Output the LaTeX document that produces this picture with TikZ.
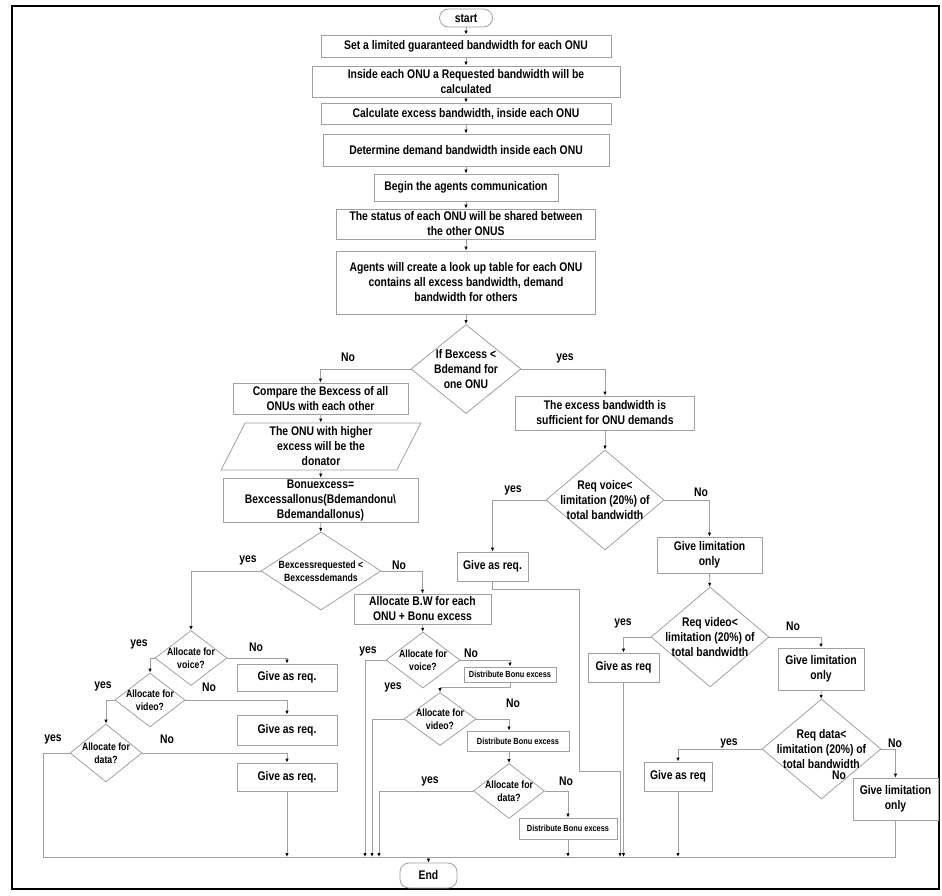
\documentclass[tikz,border=0pt]{standalone}
\usepackage{fontspec}
\setmainfont{Liberation Sans}[FakeStretch=0.83]
\usetikzlibrary{positioning}
\usetikzlibrary{arrows.meta}
\usetikzlibrary{shapes.geometric}
\definecolor{lgray}{RGB}{160,160,160}

\begin{document}
\begin{tikzpicture}[x=1pt,y=-1pt,->,>={Latex[length=4pt,width=3.4pt,color=black]},
	draw=lgray,line width=0.8pt,font=\bfseries\fontsize{12.5}{15}\selectfont,
	box/.style={draw=lgray,rectangle,align=center,inner sep=1pt},
	term/.style={draw=lgray,rectangle,rounded corners=9pt,inner sep=1pt},
	dec/.style={draw=lgray,diamond,align=center,inner sep=-8pt},
	small/.style={font=\bfseries\fontsize{10.5}{13}\selectfont},
	tiny/.style={font=\bfseries\fontsize{8.9}{10}\selectfont}]
		\useasboundingbox[draw=none] (0,0) rectangle (942,896);
		\draw[-,draw=black,line width=2pt] (12,6) rectangle (939,889);
		% main column
		\node (s0) [term,minimum width=53,minimum height=18] at (466,18) {start};
		\node (s1) [box,minimum width=290,minimum height=22] at (466,46) {Set a limited guaranteed bandwidth  for each ONU};
		\node (s2) [box,minimum width=308,minimum height=31] at (466,81.5) {Inside each ONU a Requested bandwidth will be\\calculated};
		\node (s3) [box,minimum width=290,minimum height=21] at (466,113.5) {Calculate  excess bandwidth,  inside each ONU};
		\node (s4) [box,minimum width=286,minimum height=32] at (466,150) {Determine demand bandwidth inside each ONU};
		\node (s5) [box,minimum width=184,minimum height=27] at (466,187.5) {Begin the agents communication};
		\node (s6) [box,minimum width=259,minimum height=30] at (466,224) {The status of each ONU will be shared between\\the other ONUS};
		\node (s7) [box,minimum width=259,minimum height=63] at (466,282.5) {Agents will create a look up table for each ONU\\contains all excess bandwidth, demand\\bandwidth for others};
		\node (d1) [dec,minimum width=110,minimum height=89] at (466,369) {If Bexcess <\\Bdemand for\\one ONU};
		% No branch
		\node (c1) [box,minimum width=175,minimum height=31] at (320.5,398.5) {Compare the Bexcess of all\\ONUs with each other};
		\node (p1) [draw=lgray,trapezium,trapezium left angle=68,trapezium right angle=112,trapezium stretches=true,align=center,inner sep=1pt,minimum width=200,minimum height=47] at (321,446.5) {The ONU with higher\\excess will be the\\donator};
		\node (bon) [box,minimum width=195,minimum height=44] at (320.5,500) {Bonuexcess=\\Bexcessallonus(Bdemandonu\textbackslash\\Bdemandallonus)};
		\node (d2) [dec,small,minimum width=120,minimum height=78] at (321,571) {Bexcessrequested <\\Bexcessdemands};
		\node (d6) [dec,small,minimum width=72,minimum height=55] at (191,658) {Allocate for\\voice?};
		\node (d7) [dec,small,minimum width=70,minimum height=54] at (150,700) {Allocate for\\video?};
		\node (d8) [dec,small,minimum width=72,minimum height=58] at (106,753) {Allocate for\\data?};
		\node (g1) [box,minimum width=100,minimum height=27] at (287,677.5) {Give as req.};
		\node (g2) [box,minimum width=100,minimum height=30] at (287,730) {Give as req.};
		\node (g3) [box,minimum width=100,minimum height=28] at (287,777) {Give as req.};
		\node (al) [box,minimum width=137,minimum height=30] at (422.5,609) {Allocate B.W for each\\ONU + Bonu excess};
		\node (d9) [dec,small,minimum width=74,minimum height=56] at (423,660) {Allocate for\\voice?};
		\node (e1) [box,tiny,minimum width=92,minimum height=15] at (510,674.5) {Distribute Bonu excess};
		\node (d10) [dec,small,minimum width=72,minimum height=53] at (440,719) {Allocate for\\video?};
		\node (e2) [box,tiny,minimum width=102,minimum height=20] at (518,741) {Distribute Bonu excess};
		\node (d11) [dec,small,minimum width=71,minimum height=55] at (509,791) {Allocate for\\data?};
		\node (e3) [box,tiny,minimum width=98,minimum height=21] at (568,828.5) {Distribute Bonu excess};
		% yes branch
		\node (r1) [box,minimum width=179,minimum height=34] at (605,413) {The excess bandwidth is\\sufficient for ONU demands};
		\node (d3) [dec,minimum width=118,minimum height=100] at (605,500) {Req voice<\\limitation (20\%) of\\total bandwidth};
		\node (q1) [box,minimum width=71,minimum height=29] at (492.5,566.5) {Give as req.};
		\node (l1) [box,minimum width=105,minimum height=36] at (709.5,555) {Give limitation\\only};
		\node (d4) [dec,minimum width=118,minimum height=100] at (710,637) {Req video<\\limitation (20\%) of\\total bandwidth};
		\node (q2) [box,minimum width=71,minimum height=29] at (623.5,667.5) {Give as req};
		\node (l2) [box,minimum width=86,minimum height=42] at (821,669) {Give limitation\\only};
		\node (d5) [dec,minimum width=119,minimum height=100] at (821.5,749) {Req data<\\limitation (20\%) of\\total bandwidth};
		\node (q3) [box,minimum width=68,minimum height=29] at (678,776.5) {Give as req};
		\node (l3) [box,minimum width=85,minimum height=42] at (895.5,799) {Give limitation\\only};
		\node (en) [term,minimum width=57,minimum height=25] at (428.5,875.5) {End};
		% bends and the bottom line
		\coordinate (bl) at (43,857);
		\coordinate (br) at (895.5,857);
		\coordinate (k1) at (365,857);
		\coordinate (k2) at (372,857);
		\coordinate (k3) at (379,857);
		\coordinate (k4) at (579,771);
		\coordinate (k5) at (620,857);
		% labels
		\node (t1) at (348,357) {No};
		\node (t2) at (565,358) {yes};
		\node (t3) at (248,560) {yes};
		\node (t4) at (399,565) {No};
		\node (t5) at (139,644) {yes};
		\node (t6) at (256,647) {No};
		\node (t7) at (209,687) {No};
		\node (t8) at (103,686) {yes};
		\node (t9) at (53,739) {yes};
		\node (t10) at (167,739) {No};
		\node (t11) at (368,651) {yes};
		\node (t12) at (471,653) {No};
		\node (t13) at (393,687) {yes};
		\node (t14) at (513,703) {No};
		\node (t15) at (430,781) {yes};
		\node (t16) at (566,781) {No};
		\node (t17) at (513,490) {yes};
		\node (t18) at (701,492) {No};
		\node (t19) at (623,623) {yes};
		\node (t20) at (793,626) {No};
		\node (t21) at (729,743) {yes};
		\node (t22) at (895,743) {No};
		\node (t23) at (839,775) {No};
		% main column arrows
		\draw (s0) -- (s1);
		\draw (s1) -- (s2);
		\draw (s2) -- (s3);
		\draw (s3) -- (s4);
		\draw (s4) -- (s5);
		\draw (s5) -- (s6);
		\draw (s6) -- (s7);
		\draw (s7) -- (d1);
		% No side
		\draw (d1.west) -| (c1.north);
		\draw (c1) -- (p1);
		\draw (p1) -- (bon);
		\draw (bon) -- (d2);
		\draw (d2.west) -| (d6.north);
		\draw (d2.east) -| (al.north);
		\draw (d6.west) -| (d7.north);
		\draw (d6.east) -| (g1.north);
		\draw (d7.west) -| (d8.north);
		\draw (d7.east) -| (g2.north);
		\draw (d8.east) -| (g3.north);
		\draw[-] (d8.west) -| (bl) -- (br);
		\draw (g3) -- (g3 |- bl);
		\draw (al) -- (d9);
		\draw (d9.west) -| (k1);
		\draw (d9.east) -| (e1.north);
		\draw (e1.south) -- ++(0,5) -| (d10.north);
		\draw (d10.west) -| (k2);
		\draw (d10.east) -| (d11 |- e2.north);
		\draw (d11 |- e2.south) -- (d11.north);
		\draw (d11.west) -| (k3);
		\draw (d11.east) -| (e3.north);
		\draw (e3) -- (e3 |- bl);
		% yes side
		\draw (d1.east) -| (r1.north);
		\draw (r1) -- (d3);
		\draw (d3.west) -| (q1.north);
		\draw (d3.east) -| (l1.north);
		\draw (q1.south) -- ++(0,8) -| (k4) -| (k5);
		\draw (l1) -- (d4);
		\draw (d4.west) -| (q2.north);
		\draw (d4.east) -| (l2.north);
		\draw (q2) -- (q2 |- bl);
		\draw (l2) -- (d5);
		\draw (d5.west) -| (q3.north);
		\draw (d5.east) -| (l3.north);
		\draw (q3) -- (q3 |- bl);
		\draw[-] (l3) -- (br);
		\draw (en |- bl) -- (en);
\end{tikzpicture}
\end{document}
